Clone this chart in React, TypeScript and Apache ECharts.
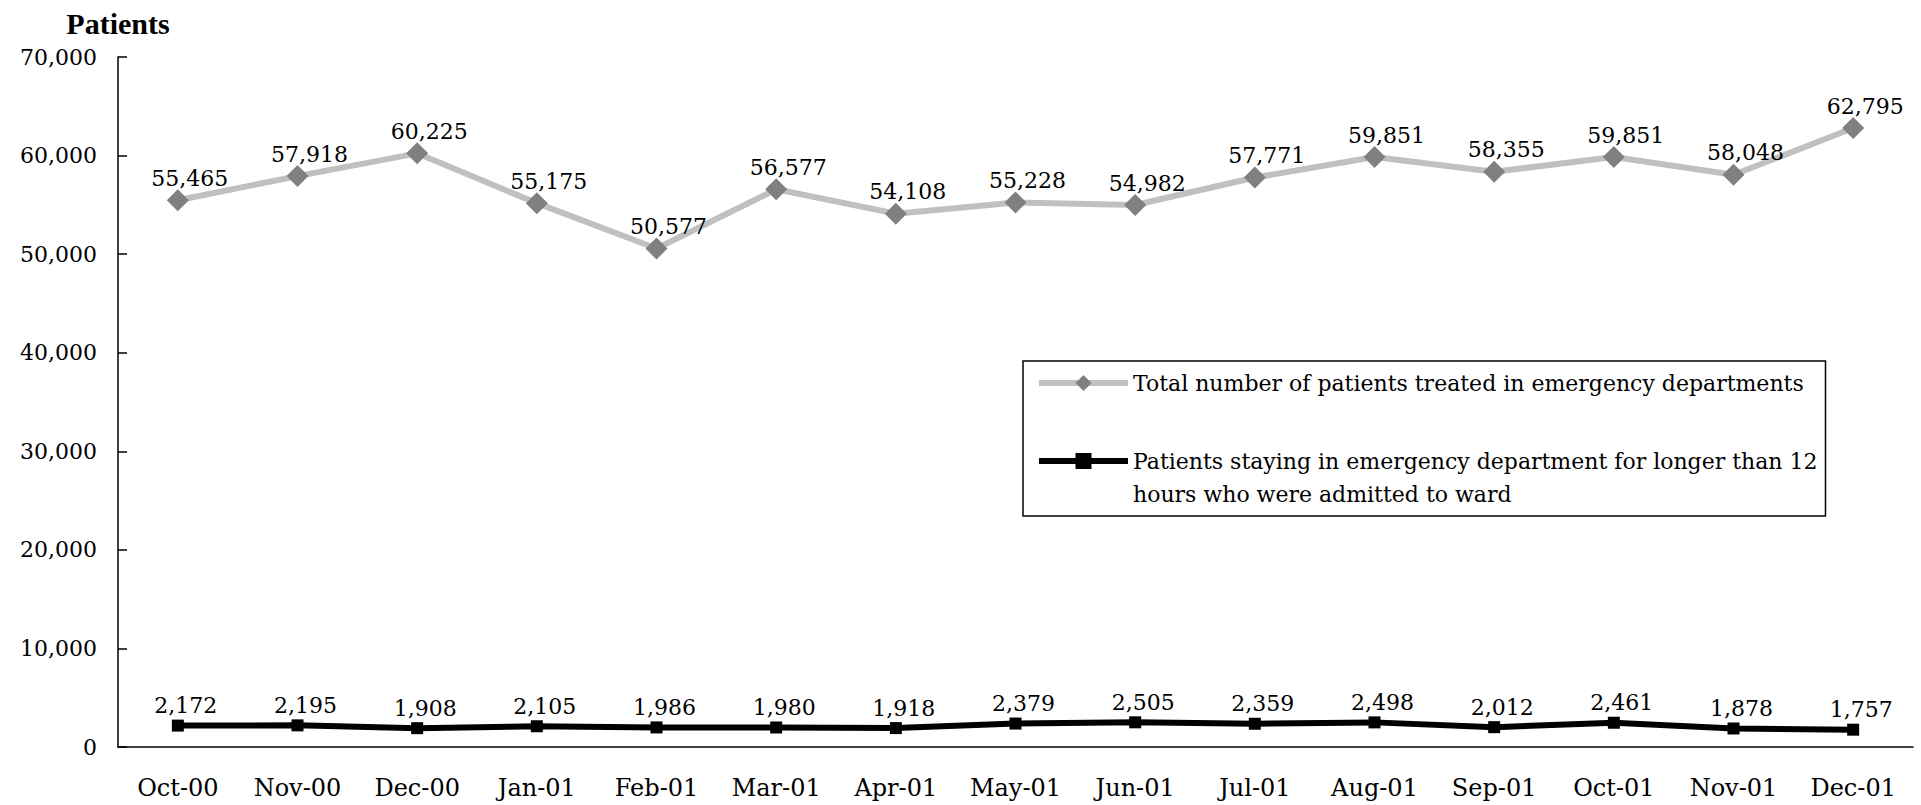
import React, { useEffect, useRef } from "react";
import * as echarts from "echarts";

const categories = ["Oct-00", "Nov-00", "Dec-00", "Jan-01", "Feb-01", "Mar-01", "Apr-01", "May-01", "Jun-01", "Jul-01", "Aug-01", "Sep-01", "Oct-01", "Nov-01", "Dec-01"];
const totalPatients = [55465, 57918, 60225, 55175, 50577, 56577, 54108, 55228, 54982, 57771, 59851, 58355, 59851, 58048, 62795];
const longStay = [2172, 2195, 1908, 2105, 1986, 1980, 1918, 2379, 2505, 2359, 2498, 2012, 2461, 1878, 1757];
const seriesTotalName = "Total number of patients treated in emergency departments";
const seriesLongName = "Patients staying in emergency department for longer than 12 hours who were admitted to ward";
const seriesLongLegend = "\nPatients staying in emergency department for longer than 12\nhours who were admitted to ward";
const yAxisTitle = "Patients";

const FONT = "DejaVu Serif";
const fmt = (v: number) => v.toLocaleString("en-US");

export default function App() {
  const ref = useRef<HTMLDivElement>(null);
  useEffect(() => {
    if (!ref.current) return;
    const chart = echarts.init(ref.current, null, { renderer: "svg" });
    chart.setOption({
      animation: false,
      backgroundColor: "#ffffff",
      textStyle: { fontFamily: FONT, color: "#000" },
      grid: { left: 118, right: 8, top: 57, bottom: 58 },
      legend: {
        orient: "vertical",
        left: 1023,
        top: 361,
        borderColor: "#000",
        borderWidth: 1.5,
        padding: [5.5, 8, 5.5, 13],
        itemGap: 12,
        itemWidth: 89,
        itemHeight: 20,
        itemTextGap: 4,
        lineStyle: { width: 6 },
        textStyle: { fontFamily: FONT, fontSize: 22, color: "#000", lineHeight: 33 },
        formatter: (name: string) => (name === seriesLongName ? seriesLongLegend : name),
        data: [{ name: seriesTotalName }, { name: seriesLongName }],
      },
      xAxis: {
        type: "category",
        data: categories,
        boundaryGap: true,
        axisLine: { lineStyle: { color: "#000", width: 1.5 } },
        axisTick: { inside: true, length: 10, lineStyle: { color: "#000", width: 1.5 } },
        axisLabel: { fontFamily: FONT, fontSize: 24, color: "#000", margin: 29 },
        splitLine: { show: false },
      },
      yAxis: {
        type: "value",
        min: 0,
        max: 70000,
        interval: 10000,
        name: yAxisTitle,
        nameLocation: "end",
        nameGap: 19,
        nameTextStyle: { fontFamily: "Liberation Serif", fontWeight: "bold", fontSize: 30, color: "#000" },
        axisLine: { show: true, lineStyle: { color: "#000", width: 1.5 } },
        axisTick: { show: true, inside: true, length: 9, lineStyle: { color: "#000", width: 1.5 } },
        axisLabel: { fontFamily: FONT, fontSize: 22, color: "#000", margin: 21, formatter: (v: number) => fmt(v) },
        splitLine: { show: false },
      },
      series: [
        {
          name: seriesTotalName,
          type: "line",
          data: totalPatients,
          symbol: "diamond",
          symbolSize: 22,
          lineStyle: { color: "#c0c0c0", width: 6 },
          itemStyle: { color: "#808080" },
          label: {
            show: true,
            position: "inside",
            offset: [12, -22],
            fontFamily: FONT,
            fontSize: 22,
            color: "#000",
            formatter: (p: any) => fmt(p.value),
          },
        },
        {
          name: seriesLongName,
          type: "line",
          data: longStay,
          symbol: "rect",
          symbolSize: 12,
          lineStyle: { color: "#000", width: 6 },
          itemStyle: { color: "#000" },
          label: {
            show: true,
            position: "inside",
            offset: [8, -20],
            fontFamily: FONT,
            fontSize: 22,
            color: "#000",
            formatter: (p: any) => fmt(p.value),
          },
        },
      ],
    });
    return () => chart.dispose();
  }, []);
  return <div ref={ref} style={{ position: "fixed", left: 0, top: 0, width: 1921, height: 805 }} />;
}
